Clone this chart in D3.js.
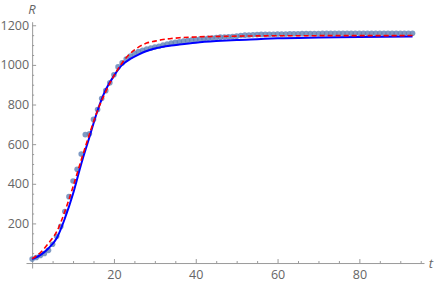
<!DOCTYPE html>
<html>
<head>
<script src="https://cdnjs.cloudflare.com/ajax/libs/d3/7.8.5/d3.min.js"></script>
<style>
  body { margin: 0; background: #fff; }
  svg text { font-family: "Open Sans", "DejaVu Sans", sans-serif; }
</style>
</head>
<body>
<div id="chart"></div>
<script>
// observed data R(t), one point per day
const obsT = d3.range(0, 94);
const obsR = [20, 28, 38, 48, 64, 95, 135, 185, 260, 335,
  414, 473, 550, 648, 652, 725, 775, 830, 870, 910,
  950, 990, 1010, 1030, 1045, 1058, 1067, 1074, 1080, 1085,
  1090, 1094, 1100, 1105, 1110, 1114, 1117, 1120, 1123, 1126,
  1128, 1130, 1132, 1134, 1136, 1138, 1140, 1141, 1142, 1143,
  1145, 1148, 1150, 1151, 1152, 1153, 1154, 1154, 1155, 1155,
  1156, 1156, 1156, 1157, 1157, 1157, 1158, 1158, 1158, 1158,
  1158, 1159, 1159, 1159, 1159, 1159, 1159, 1160, 1160, 1160,
  1160, 1160, 1160, 1160, 1160, 1160, 1160, 1160, 1160, 1160,
  1160, 1160, 1160, 1160];

// fitted model (solid blue)
const fitT = [0, 2, 4, 6, 8, 10, 12, 14, 16, 18, 20, 22, 24, 26, 28, 30, 32, 34, 36, 40, 45, 50, 55, 60, 70, 80, 93];
const fitR = [20, 40, 75, 125, 225, 350, 500, 635, 770, 875, 945, 1000, 1030, 1052, 1070, 1083, 1092, 1098, 1103, 1112, 1120, 1126, 1130, 1134, 1138, 1141, 1143];

// second model (dashed red)
const altT = [0, 2, 4, 6, 8, 10, 12, 14, 16, 18, 20, 22, 24, 26, 28, 30, 32, 34, 36, 40, 50, 60, 93];
const altR = [22, 52, 100, 158, 260, 385, 520, 650, 770, 865, 945, 1010, 1058, 1090, 1110, 1120, 1128, 1133, 1137, 1141, 1145, 1147, 1148];

const xTicks = [20, 40, 60, 80];
const yTicks = [200, 400, 600, 800, 1000, 1200];

const width = 436, height = 283;

const svg = d3.select("#chart").append("svg")
    .attr("width", width).attr("height", height);

const x = d3.scaleLinear().domain([-1.5, 95.8]).range([26, 424]);
const y = d3.scaleLinear().domain([-25, 1218]).range([268, 21.7]);

const axisColor = "#9a9a9a", labelColor = "#666";

// x axis
const xMinor = d3.range(5, 96, 5).filter(v => v % 20 !== 0);
const gx = svg.append("g").attr("transform", "translate(0," + y(0) + ")");
gx.call(d3.axisBottom(x).tickValues(xTicks).tickSize(-4).tickSizeOuter(0).tickPadding(7).tickFormat(d3.format("d")));
svg.append("g").attr("transform", "translate(0," + y(0) + ")")
   .call(d3.axisBottom(x).tickValues(xMinor).tickSize(-2).tickFormat(""))
   .select(".domain").remove();

// y axis
const yMinor = d3.range(50, 1201, 50).filter(v => v % 200 !== 0);
const gy = svg.append("g").attr("transform", "translate(" + x(0) + ",0)");
gy.call(d3.axisLeft(y).tickValues(yTicks).tickSize(-4).tickSizeOuter(0).tickPadding(3).tickFormat(d3.format("d")));
svg.append("g").attr("transform", "translate(" + x(0) + ",0)")
   .call(d3.axisLeft(y).tickValues(yMinor).tickSize(-2).tickFormat(""))
   .select(".domain").remove();

svg.selectAll(".domain, .tick line").attr("stroke", axisColor);
svg.selectAll(".tick text").attr("fill", labelColor).style("font-size", "12.5px");

// axis labels
svg.append("text").attr("x", 32).attr("y", 14).attr("text-anchor", "middle")
   .style("font-style", "italic").style("font-size", "13px").attr("fill", labelColor).text("R");
svg.append("text").attr("x", 431).attr("y", 268).attr("text-anchor", "middle")
   .style("font-style", "italic").style("font-size", "13px").attr("fill", labelColor).text("t");

// points
svg.append("g").selectAll("circle")
   .data(obsT)
   .enter().append("circle")
   .attr("cx", (t) => x(t))
   .attr("cy", (t, i) => y(obsR[i]))
   .attr("r", 2.8)
   .attr("fill", "#5e81b5")
   .attr("fill-opacity", 0.8);

const line = d3.line().curve(d3.curveMonotoneX);

svg.append("path")
   .attr("d", line(fitT.map((t, i) => [x(t), y(fitR[i])])))
   .attr("fill", "none").attr("stroke", "#0000ff").attr("stroke-width", 2);

svg.append("path")
   .attr("d", line(altT.map((t, i) => [x(t), y(altR[i])])))
   .attr("fill", "none").attr("stroke", "#ff0000").attr("stroke-width", 1.6)
   .attr("stroke-dasharray", "5,3");
</script>
</body>
</html>
